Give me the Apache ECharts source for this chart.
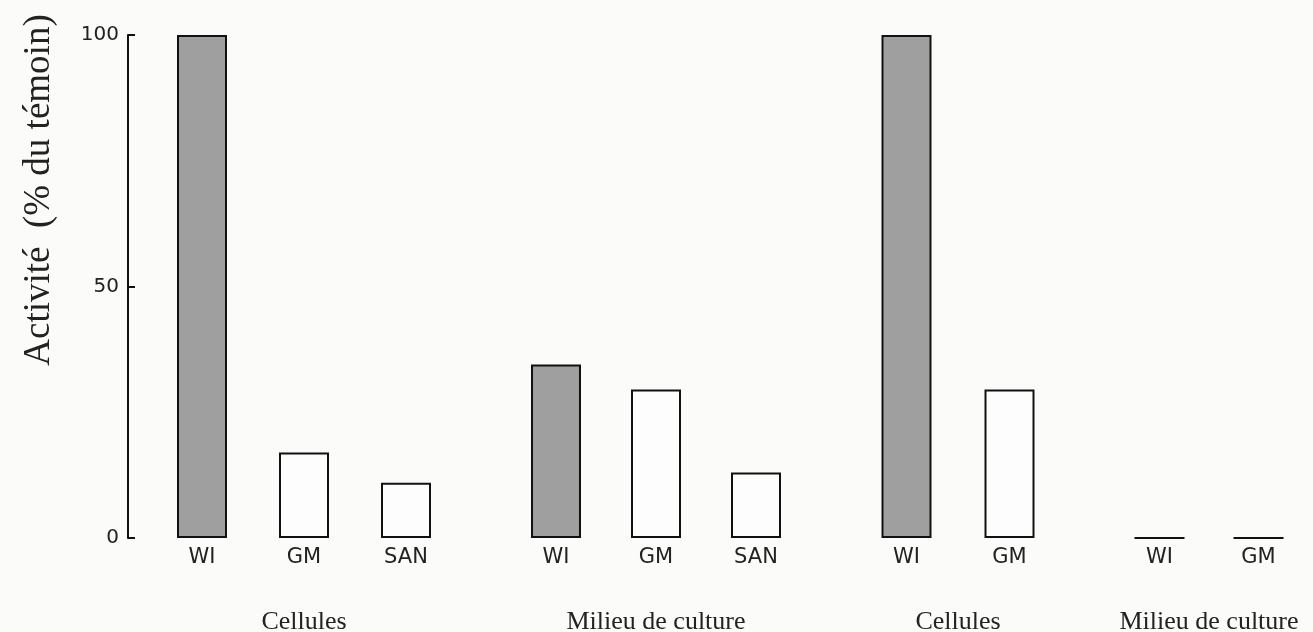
<!DOCTYPE html>
<html>
<head>
<meta charset="utf-8">
<script src="https://cdn.jsdelivr.net/npm/echarts@6/dist/echarts.min.js"></script>
<style>
html,body{margin:0;padding:0;background:#fbfbfa;}
#chart{width:1313px;height:632px;}
</style>
</head>
<body>
<div id="chart"></div>
<script>
// ---- data ----
const groupNames = ['Cellules', 'Milieu de culture', 'Cellules', 'Milieu de culture'];
const cats1 = ['WI', 'GM', 'SAN'];
const vals1 = [100, 17, 11];
const cats2 = ['WI', 'GM', 'SAN'];
const vals2 = [34.5, 29.5, 13];
const cats3 = ['WI', 'GM'];
const vals3 = [100, 29.5];
const cats4 = ['WI', 'GM'];
const vals4 = [0, 0];
const yTicks = [0, 50, 100];
const yTitle = 'Activité  (% du témoin)';

const groups = [[cats1, vals1], [cats2, vals2], [cats3, vals3], [cats4, vals4]];
const gridBoxes = [
  {left: 151, width: 306},
  {left: 506, width: 300},
  {left: 855, width: 206},
  {left: 1110, width: 198}
];
const shade = '#9f9f9f';
const sans = 'DejaVu Sans, Arial, sans-serif';
const serif = 'Liberation Serif, Times New Roman, serif';

const grid = [], xAxis = [], yAxis = [], series = [];
groups.forEach(([cats, vals], i) => {
  grid.push({left: gridBoxes[i].left, width: gridBoxes[i].width, top: 35, bottom: 94,
    containLabel: false, outerBoundsMode: 'none'});
  xAxis.push({
    type: 'category', gridIndex: i, data: cats,
    axisLine: {show: false}, axisTick: {show: false},
    axisLabel: {color: '#222', fontFamily: sans, fontSize: 21, margin: 9},
    name: groupNames[i], nameLocation: 'middle', nameGap: 71,
    nameTextStyle: {color: '#222', fontFamily: serif, fontSize: 26}
  });
  yAxis.push({
    type: 'value', gridIndex: i, min: 0, max: 100, interval: 50,
    show: i === 0, offset: 23,
    splitLine: {show: false},
    axisLine: {show: true, lineStyle: {color: '#111', width: 2}},
    axisTick: {show: true, inside: true, length: 7, lineStyle: {color: '#111', width: 2}},
    axisLabel: {color: '#222', fontFamily: sans, fontSize: 20, margin: 9,
      formatter: v => yTicks.includes(v) ? String(v) : ''}
  });
  series.push({
    type: 'bar', xAxisIndex: i, yAxisIndex: i, barWidth: 50,
    data: vals.map((v, k) => ({
      value: v,
      itemStyle: {color: cats[k] === 'WI' ? shade : '#fdfdfd', borderColor: '#111', borderWidth: 2}
    })),
    silent: true
  });
});

const chart = echarts.init(document.getElementById('chart'));
chart.setOption({
  backgroundColor: '#fbfbfa',
  animation: false,
  grid, xAxis, yAxis, series,
  graphic: [{
    type: 'text', x: 39, y: 190, rotation: Math.PI / 2,
    style: {text: yTitle, fill: '#222', font: '37px ' + serif, textAlign: 'center', textVerticalAlign: 'middle'}
  }]
});
</script>
</body>
</html>
